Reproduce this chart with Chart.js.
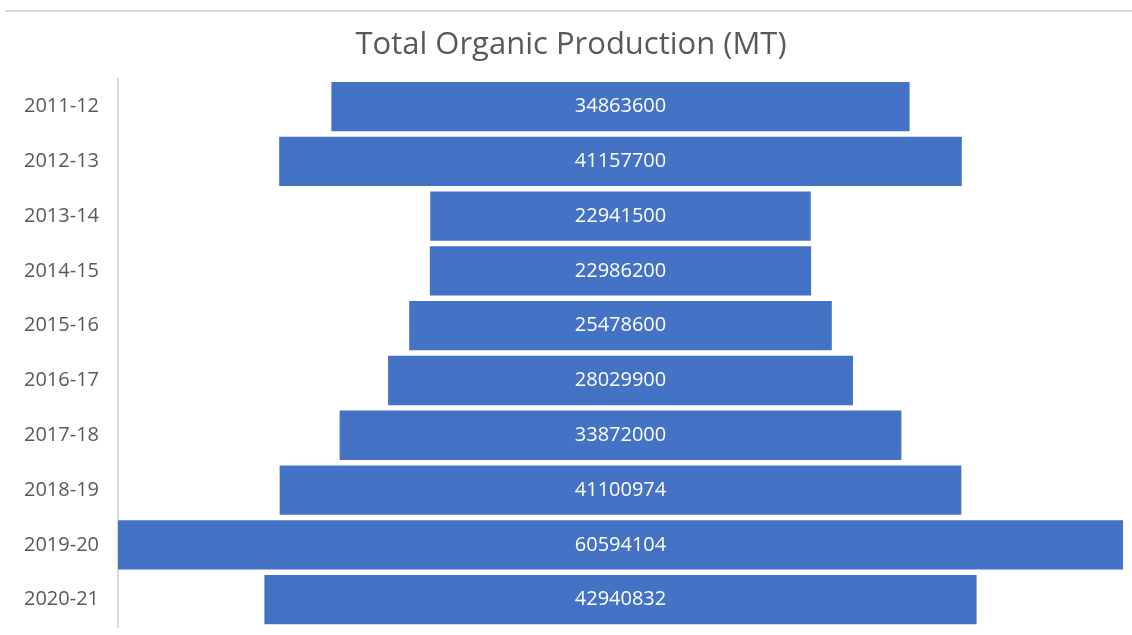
<!DOCTYPE html>
<html>
<head>
<meta charset="utf-8">
<script src="https://cdn.jsdelivr.net/npm/chart.js@4/dist/chart.umd.min.js"></script>
<style>
    html, body { margin: 0; padding: 0; background: #fff; overflow: hidden; }
    #wrap { position: relative; width: 1132px; height: 635px; }
    #wrap canvas { display: block; }
    #topLine { position: absolute; left: 5px; right: 0; top: 10px; height: 2px; background: #d9d9d9; }
</style>
</head>
<body>
<div id="wrap">
    <div id="topLine"></div>
    <canvas id="funnelChart" style="width:1132px;height:635px"></canvas>
</div>
<script>
// Années et production totale (MT)
const years = ['2011-12', '2012-13', '2013-14', '2014-15', '2015-16', '2016-17', '2017-18', '2018-19', '2019-20', '2020-21'];
const production = [34863600, 41157700, 22941500, 22986200, 25478600, 28029900, 33872000, 41100974, 60594104, 42940832];

// Barres centrées autour de zéro (effet entonnoir)
const halfMax = Math.max(...production) / 2;
const funnelData = production.map(v => [-v / 2, v / 2]);

// Petit plugin pour écrire la valeur au centre de chaque barre
const centerLabels = {
    id: 'centerLabels',
    afterDatasetsDraw(chart) {
        const c = chart.ctx;
        const meta = chart.getDatasetMeta(0);
        const xMid = chart.scales.x.getPixelForValue(0);
        c.save();
        c.fillStyle = '#ffffff';
        c.font = '20px "Open Sans"';
        c.textAlign = 'center';
        c.textBaseline = 'middle';
        meta.data.forEach((bar, i) => {
            c.fillText(String(production[i]), xMid, bar.y);
        });
        c.restore();
    }
};

const ctx = document.getElementById('funnelChart').getContext('2d');

new Chart(ctx, {
    type: 'bar',
    data: {
        labels: years,
        datasets: [{
            label: 'Total Organic Production (MT)',
            data: funnelData,
            backgroundColor: '#4472C4',
            borderWidth: 0,
            barPercentage: 0.9,
            categoryPercentage: 1.0
        }]
    },
    options: {
        indexAxis: 'y',
        responsive: false,
        maintainAspectRatio: false,
        animation: false,
        layout: { padding: { top: 0, left: 19, right: 9, bottom: 8 } },
        plugins: {
            legend: { display: false },
            tooltip: { enabled: false },
            title: {
                display: true,
                text: 'Total Organic Production (MT)',
                color: '#595959',
                font: { family: 'Open Sans', size: 31, weight: 'normal' },
                padding: { top: 27, bottom: 15 }
            }
        },
        scales: {
            x: {
                display: false,
                min: -halfMax,
                max: halfMax
            },
            y: {
                grid: { display: false },
                border: { display: true, color: '#d9d9d9', width: 2 },
                ticks: {
                    color: '#595959',
                    font: { family: 'Open Sans', size: 20 },
                    padding: 11
                },
                afterFit: function (scale) {
                    scale.width = 99;
                    scale.paddingTop = 0;
                    scale.paddingBottom = 0;
                }
            }
        }
    },
    plugins: [centerLabels]
});
</script>
</body>
</html>
